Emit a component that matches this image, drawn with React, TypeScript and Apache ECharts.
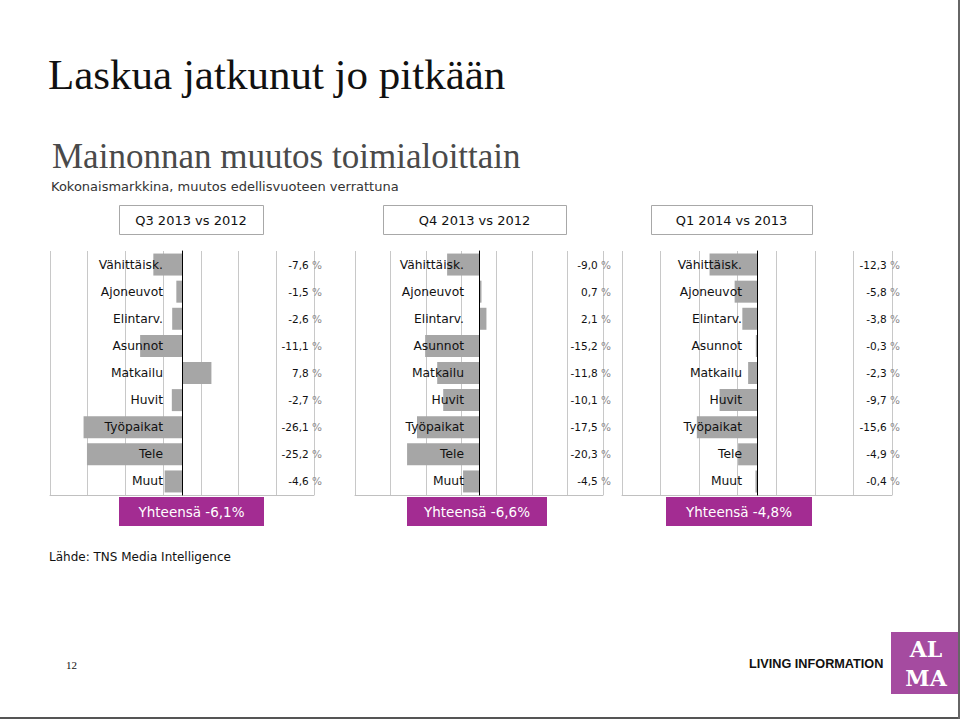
import React, { useEffect, useRef } from "react";
import * as echarts from "echarts";

// ---------- data ----------
const categories = ["Vähittäisk.", "Ajoneuvot", "Elintarv.", "Asunnot", "Matkailu", "Huvit", "Työpaikat", "Tele", "Muut"];
const panelTitles = ["Q3 2013 vs 2012", "Q4 2013 vs 2012", "Q1 2014 vs 2013"];
const q3_2013 = [-7.6, -1.5, -2.6, -11.1, 7.8, -2.7, -26.1, -25.2, -4.6];
const q4_2013 = [-9.0, 0.7, 2.1, -15.2, -11.8, -10.1, -17.5, -20.3, -4.5];
const q1_2014 = [-12.3, -5.8, -3.8, -0.3, -2.3, -9.7, -15.6, -4.9, -0.4];
const totals = [-6.1, -6.6, -4.8];
const axisMin = -35;
const axisMax = 35;
const axisStep = 10;

const title = "Laskua jatkunut jo pitkään";
const subtitle = "Mainonnan muutos toimialoittain";
const caption = "Kokonaismarkkina, muutos edellisvuoteen verrattuna";
const source = "Lähde: TNS Media Intelligence";
const pageNo = "12";
const tagline = "LIVING INFORMATION";
const logoLines = ["AL", "MA"];

const seriesValues = [q3_2013, q4_2013, q1_2014];

// ---------- layout ----------
const GRID_TOP = 251;
const GRID_H = 244;
const panels = [
  { left: 50, width: 264, head: [119, 144], total: [119, 145], labelMargin: 19 },
  { left: 355, width: 248, head: [383, 183], total: [407, 140], labelMargin: 15 },
  { left: 622, width: 270, head: [651, 161], total: [666, 146], labelMargin: 15 },
];
const SANS = '"DejaVu Sans", Verdana, sans-serif';
const SERIF = '"Liberation Serif", "Times New Roman", serif';
const BAR = "#a6a6a6";
const PURPLE = "#a32c92";

const fmt = (v: number) => v.toFixed(1).replace(".", ",");

function txt(x: number, y: number, text: string, font: string, fill: string, align = "left") {
  return {
    type: "text",
    x,
    y,
    silent: true,
    z: 20,
    style: {
      text,
      font,
      fill,
      align,
      textAlign: align,
      verticalAlign: "middle",
      textVerticalAlign: "middle",
    },
  };
}

export default function App() {
  const ref = useRef<HTMLDivElement>(null);

  useEffect(() => {
    if (!ref.current) return;
    const chart = echarts.init(ref.current, undefined, { renderer: "svg" });

    const grid: any[] = [];
    const xAxis: any[] = [];
    const yAxis: any[] = [];
    const series: any[] = [];
    const graphic: any[] = [];

    panels.forEach((p, i) => {
      const vals = seriesValues[i];
      const zeroOffset = -p.width * (0 - axisMin) / (axisMax - axisMin);
      grid.push({
        left: p.left,
        width: p.width,
        top: GRID_TOP,
        height: GRID_H,
        containLabel: false,
        outerBoundsMode: "none",
      });
      xAxis.push({
        gridIndex: i,
        type: "value",
        min: axisMin,
        max: axisMax,
        interval: axisStep,
        axisLabel: { show: false },
        axisTick: { show: false },
        axisLine: { show: true, onZero: false, lineStyle: { color: "#c0c0c0", width: 1 } },
        splitLine: { show: true, lineStyle: { color: "#c8c8c8", width: 1 } },
      });
      yAxis.push({
        gridIndex: i,
        type: "category",
        data: categories,
        inverse: true,
        position: "left",
        offset: zeroOffset,
        z: 10,
        axisLine: { show: true, onZero: false, lineStyle: { color: "#000", width: 1 } },
        axisTick: { show: false },
        splitLine: { show: false },
        axisLabel: { margin: p.labelMargin, color: "#111", fontSize: 12.3, fontFamily: SANS },
      });
      yAxis.push({
        gridIndex: i,
        type: "category",
        data: categories,
        inverse: true,
        position: "right",
        z: 10,
        axisLine: { show: false, onZero: false },
        axisTick: { show: false },
        splitLine: { show: false },
        axisLabel: {
          margin: 8,
          align: "right",
          formatter: (_v: string, idx: number) => `{n|${fmt(vals[idx])}} {p|%}`,
          rich: {
            n: { color: "#111", fontSize: 10.5, fontFamily: SANS },
            p: { color: "#8a8a8a", fontSize: 10.5, fontFamily: SANS },
          },
        },
      });
      series.push({
        type: "bar",
        xAxisIndex: i,
        yAxisIndex: 2 * i,
        data: vals,
        barWidth: 22,
        silent: true,
        itemStyle: { color: BAR },
      });

      // header box
      graphic.push({
        type: "rect",
        silent: true,
        shape: { x: p.head[0] + 0.5, y: 205.5, width: p.head[1], height: 29 },
        style: { fill: "#fff", stroke: "#a8a8a8", lineWidth: 1 },
      });
      graphic.push(txt(p.head[0] + p.head[1] / 2, 220, panelTitles[i], `13px ${SANS}`, "#111", "center"));

      // total box
      graphic.push({
        type: "rect",
        silent: true,
        shape: { x: p.total[0], y: 497, width: p.total[1], height: 29 },
        style: { fill: PURPLE },
      });
      graphic.push(
        txt(p.total[0] + p.total[1] / 2, 512, `Yhteensä ${fmt(totals[i])}%`, `13.5px ${SANS}`, "#fff", "center")
      );
    });

    graphic.push(txt(48, 74, title, `43px ${SERIF}`, "#111"));
    graphic.push(txt(52, 156, subtitle, `35px ${SERIF}`, "#4a4a4a"));
    graphic.push(txt(51, 186, caption, `13px ${SANS}`, "#333"));
    graphic.push(txt(49, 557, source, `12px ${SANS}`, "#111"));
    graphic.push(txt(66, 665, pageNo, `11px ${SERIF}`, "#111"));
    graphic.push(txt(749, 664, tagline, `bold 12.7px "Liberation Sans", Arial, sans-serif`, "#111"));
    // logo
    graphic.push({
      type: "rect",
      silent: true,
      shape: { x: 891, y: 632, width: 67, height: 62 },
      style: { fill: "#a54ba0" },
    });
    graphic.push(txt(926, 649, logoLines[0], `bold 22px "DejaVu Serif", serif`, "#fff", "center"));
    graphic.push(txt(926, 678, logoLines[1], `bold 22px "DejaVu Serif", serif`, "#fff", "center"));
    // slide frame (right / bottom edges)
    graphic.push({
      type: "line",
      silent: true,
      shape: { x1: 0, y1: 718, x2: 960, y2: 718 },
      style: { stroke: "#555", lineWidth: 2 },
    });
    graphic.push({
      type: "line",
      silent: true,
      shape: { x1: 959, y1: 0, x2: 959, y2: 719 },
      style: { stroke: "#666", lineWidth: 2 },
    });

    chart.setOption({
      animation: false,
      backgroundColor: "#fff",
      grid,
      xAxis,
      yAxis,
      series,
      graphic,
    });

    return () => chart.dispose();
  }, []);

  return (
    <div
      ref={ref}
      style={{ position: "fixed", left: 0, top: 0, width: 960, height: 719, background: "#fff" }}
    />
  );
}
